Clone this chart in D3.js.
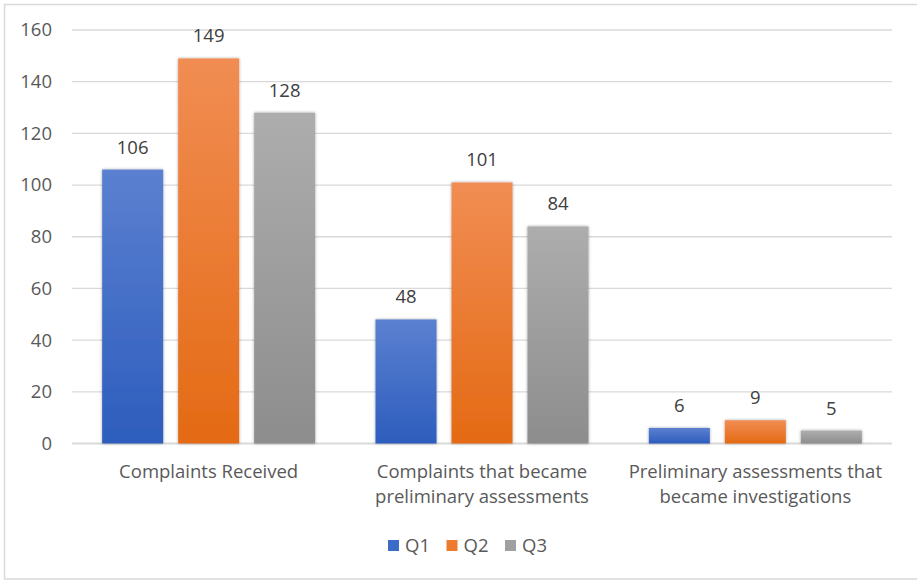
<!DOCTYPE html>
<html>
<head>
<meta charset="utf-8">
<script src="https://cdn.jsdelivr.net/npm/d3@7"></script>
<style>
  html, body { margin: 0; padding: 0; background: #fff; }
  svg { display: block; font-family: "Open Sans", sans-serif; }
</style>
</head>
<body>
<svg id="chart" width="917" height="581"></svg>
<script>
/*
 * Data
 *****************************/
const categories = [
  ["Complaints Received"],
  ["Complaints that became", "preliminary assessments"],
  ["Preliminary assessments that", "became investigations"]
];
const seriesNames = ["Q1", "Q2", "Q3"];
const q1 = [106, 48, 6];
const q2 = [149, 101, 9];
const q3 = [128, 84, 5];
const yTicks = [0, 20, 40, 60, 80, 100, 120, 140, 160];

// gradient colours (top, bottom) per series
const seriesColors = {
  Q1: ["#5b80d0", "#2d5dbd"],
  Q2: ["#f18d53", "#e46a14"],
  Q3: ["#adadad", "#8d8d8d"]
};
const legendColors = { Q1: "#3d6cc8", Q2: "#ee7a30", Q3: "#a0a0a0" };

const values = { Q1: q1, Q2: q2, Q3: q3 };

/*
 * Layout
 *****************************/
const W = 917, H = 581;
const plot = { left: 72, right: 892, top: 30, bottom: 443.5 };

const svg = d3.select("#chart");

// outer frame
svg.append("rect")
  .attr("x", 4.5).attr("y", 4.5)
  .attr("width", W + 10).attr("height", 574.5)
  .attr("fill", "#fff")
  .attr("stroke", "#d9d9d9")
  .attr("stroke-width", 1.5);

const defs = svg.append("defs");
seriesNames.forEach(s => {
  const g = defs.append("linearGradient")
    .attr("id", "grad_" + s)
    .attr("x1", 0).attr("y1", 0).attr("x2", 0).attr("y2", 1);
  g.append("stop").attr("offset", "0%").attr("stop-color", seriesColors[s][0]);
  g.append("stop").attr("offset", "100%").attr("stop-color", seriesColors[s][1]);
});
const shadow = defs.append("filter").attr("id", "shadow")
  .attr("x", "-20%").attr("y", "-20%").attr("width", "140%").attr("height", "140%");
shadow.append("feDropShadow")
  .attr("dx", 0).attr("dy", 0).attr("stdDeviation", 1.6)
  .attr("flood-color", "#000").attr("flood-opacity", 0.35);

// scales
const x0 = d3.scaleBand()
  .domain(d3.range(categories.length))
  .range([plot.left, plot.right])
  .paddingInner(0).paddingOuter(0);

const x1 = d3.scaleBand()
  .domain(seriesNames)
  .range([0, x0.bandwidth()])
  .paddingInner(0.197).paddingOuter(0.397);

const y = d3.scaleLinear()
  .domain([0, 160])
  .range([plot.bottom, plot.top]);

// gridlines
svg.append("g").selectAll("line")
  .data(yTicks)
  .enter()
  .append("line")
  .attr("x1", plot.left).attr("x2", plot.right)
  .attr("y1", d => y(d)).attr("y2", d => y(d))
  .attr("stroke", "#d9d9d9")
  .attr("stroke-width", d => d === 0 ? 2 : 1.3);

// y axis labels
const yAxis = d3.axisLeft(y).tickValues(yTicks).tickSize(0).tickPadding(20);
const yAxisG = svg.append("g")
  .attr("transform", "translate(" + (plot.left) + ",0)")
  .call(yAxis);
yAxisG.select(".domain").remove();
yAxisG.selectAll("text")
  .style("font-family", "'Open Sans', sans-serif")
  .style("font-size", "18.5px")
  .attr("fill", "#595959");

// bars
const groups = svg.append("g").selectAll("g")
  .data(categories.map((c, i) => i))
  .enter()
  .append("g")
  .attr("transform", i => "translate(" + x0(i) + ",0)");

groups.selectAll("rect")
  .data(i => seriesNames.map(s => ({ s, v: values[s][i] })))
  .enter()
  .append("rect")
  .attr("x", d => x1(d.s))
  .attr("width", x1.bandwidth())
  .attr("y", d => y(d.v))
  .attr("height", d => y(0) - y(d.v))
  .attr("fill", d => "url(#grad_" + d.s + ")")
  .attr("filter", "url(#shadow)");

// value labels
groups.selectAll("text.val")
  .data(i => seriesNames.map(s => ({ s, v: values[s][i] })))
  .enter()
  .append("text")
  .attr("class", "val")
  .attr("x", d => x1(d.s) + x1.bandwidth() / 2)
  .attr("y", d => y(d.v) - 16)
  .attr("text-anchor", "middle")
  .style("font-size", "18.5px")
  .attr("fill", "#404040")
  .text(d => d.v);

// category labels
const catLabels = svg.append("g").selectAll("text")
  .data(categories)
  .enter()
  .append("text")
  .attr("x", (d, i) => x0(i) + x0.bandwidth() / 2)
  .attr("y", 478)
  .attr("text-anchor", "middle")
  .style("font-size", "18.5px")
  .attr("fill", "#595959");
catLabels.each(function (lines) {
  d3.select(this).selectAll("tspan")
    .data(lines)
    .enter()
    .append("tspan")
    .attr("x", d3.select(this).attr("x"))
    .attr("dy", (d, j) => j === 0 ? 0 : 25)
    .text(d => d);
});

// legend
const legendX = d3.scalePoint().domain(seriesNames).range([388, 505]);
const legend = svg.append("g").selectAll("g")
  .data(seriesNames)
  .enter()
  .append("g")
  .attr("transform", s => "translate(" + legendX(s) + ",540)");
legend.append("rect")
  .attr("width", 11).attr("height", 11)
  .attr("fill", s => legendColors[s]);
legend.append("text")
  .attr("x", 17).attr("y", 12)
  .style("font-size", "18.5px")
  .attr("fill", "#595959")
  .text(s => s);
</script>
</body>
</html>
